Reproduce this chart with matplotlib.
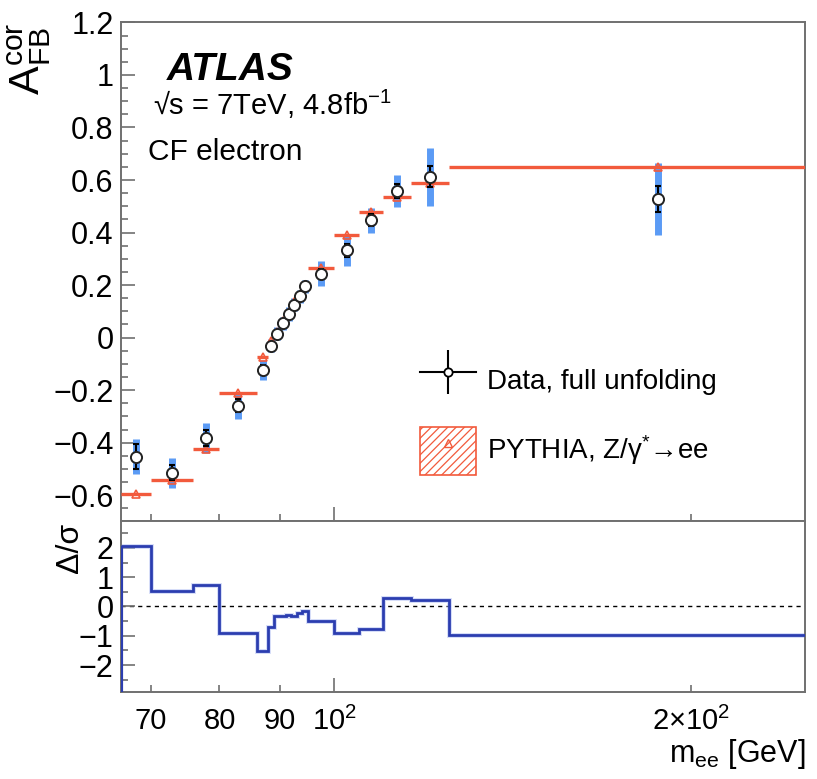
import numpy as np
import matplotlib
matplotlib.use("Agg")
from matplotlib import pyplot as plt
from matplotlib.ticker import FixedLocator, FixedFormatter, FuncFormatter, MultipleLocator
from matplotlib.lines import Line2D
from matplotlib.patches import Patch
from matplotlib.legend_handler import HandlerTuple

plt.rcParams["font.family"] = ["Liberation Sans", "DejaVu Sans"]
plt.rcParams["mathtext.fontset"] = "custom"
plt.rcParams["mathtext.rm"] = "Liberation Sans"
plt.rcParams["mathtext.it"] = "Liberation Sans:italic"
plt.rcParams["mathtext.bf"] = "Liberation Sans:bold"
plt.rcParams["hatch.linewidth"] = 0.9

# mass bins [GeV]
edges = [66, 70, 76, 80, 86, 88, 89, 90, 91, 92, 93, 94, 95, 100, 105, 110, 116, 125, 250]

# unfolded data
afb_data = [-0.453, -0.514, -0.381, -0.260, -0.123, -0.031, 0.014, 0.055, 0.090,
            0.126, 0.158, 0.195, 0.243, 0.332, 0.447, 0.558, 0.612, 0.527]
err_stat = [0.048, 0.030, 0.030, 0.025, 0.018, 0.010, 0.010, 0.010, 0.010,
            0.010, 0.010, 0.010, 0.020, 0.025, 0.022, 0.028, 0.040, 0.050]
err_tot = [0.068, 0.057, 0.057, 0.049, 0.038, 0.025, 0.025, 0.025, 0.025,
           0.025, 0.025, 0.025, 0.048, 0.058, 0.048, 0.060, 0.110, 0.137]

# PYTHIA prediction
afb_pythia = [-0.594, -0.543, -0.423, -0.211, -0.075, -0.013, 0.022, 0.063, 0.097,
              0.134, 0.164, 0.199, 0.265, 0.389, 0.478, 0.535, 0.587, 0.650]

# (data - MC) / sigma
pull = [2.05, 0.52, 0.72, -0.92, -1.51, -0.70, -0.31, -0.31, -0.28,
        -0.33, -0.23, -0.17, -0.51, -0.92, -0.76, 0.30, 0.21, -0.96]

red = "#f25a3c"
light_blue = "#5b9bf5"
dark_blue = "#2b3db0"
frame = "#707070"

edges = np.array(edges, dtype=float)
centers = 0.5 * (edges[:-1] + edges[1:])

fig = plt.figure(figsize=(8.17, 7.79), dpi=100)
ax = fig.add_axes([0.1475, 0.3306, 0.8384, 0.6406])
ax2 = fig.add_axes([0.1475, 0.1123, 0.8384, 0.2183], sharex=ax)

# upper panel
ax.errorbar(centers, afb_data, yerr=err_tot, fmt="none", ecolor=light_blue,
            elinewidth=5, zorder=2)
ax.hlines(afb_pythia, edges[:-1], edges[1:], color=red, lw=2.4, zorder=3)
ax.plot(centers, afb_pythia, ls="none", marker="^", mfc="none", mec=red,
        ms=6, mew=1.2, zorder=3)
ax.errorbar(centers, afb_data, yerr=err_stat, fmt="none", ecolor="k",
            elinewidth=1.5, capsize=2, capthick=1.5, zorder=4)
ax.plot(centers, afb_data, ls="none", marker="o", mfc="white", mec="#222222",
        ms=8, mew=1.4, zorder=5)

ax.set_ylim(-0.7, 1.2)
ax.yaxis.set_major_locator(MultipleLocator(0.2))
ax.yaxis.set_minor_locator(MultipleLocator(0.05))
ax.yaxis.set_major_formatter(FuncFormatter(lambda v, _: f"{round(v, 3):g}".replace("-", "\u2212")))

ax.text(0.068, 0.885, "ATLAS", transform=ax.transAxes, fontsize=28,
        fontweight="bold", fontstyle="italic")
ax.text(0.047, 0.815, "\u221as = 7TeV, 4.8fb$^{-1}$", transform=ax.transAxes, fontsize=21)
ax.text(0.040, 0.724, "CF electron", transform=ax.transAxes, fontsize=21.5)

h_data = (Line2D([], [], color="k", lw=1.5),
          Line2D([], [], color="k", marker="|", ms=31, mew=1.5, ls="none"),
          Line2D([], [], marker="o", mfc="white", mec="k", ms=6, mew=1.3, ls="none"))
h_mc = (Patch(facecolor="none", edgecolor=red, hatch="////", lw=1.2),
        Line2D([], [], marker="^", mfc="none", mec=red, ms=6, ls="none"))
ax.legend([h_data, h_mc],
          ["Data, full unfolding", "PYTHIA, Z/\u03b3$^{*}$\u2192ee"],
          handler_map={tuple: HandlerTuple(ndivide=1, pad=0)},
          loc="upper left", bbox_to_anchor=(420 / 817, 1 - 356 / 779),
          bbox_transform=fig.transFigure, frameon=False, fontsize=20,
          borderpad=0, borderaxespad=0, handlelength=2.0, handleheight=2.3,
          labelspacing=0.8, handletextpad=0.42)

ax.set_ylabel(r"$\mathregular{A^{cor}_{FB}}$", fontsize=31, loc="top")
ax.yaxis.set_label_coords(-0.098, 1.0)

# lower panel
ax2.stairs(pull, edges, baseline=None, color="#a9b8f0", lw=3.5, alpha=0.5, zorder=2)
ax2.stairs(pull, edges, baseline=None, color=dark_blue, lw=2, zorder=3)
ax2.vlines(edges[0], -2.9, pull[0], color=dark_blue, lw=3, zorder=3)
ax2.axhline(0, color="k", ls=(0, (3, 3)), lw=1, zorder=1)
ax2.set_ylim(-2.9, 2.9)
ax2.yaxis.set_major_locator(MultipleLocator(1))
ax2.yaxis.set_minor_locator(MultipleLocator(0.5))
ax2.yaxis.set_major_formatter(FuncFormatter(lambda v, _: f"{round(v, 3):g}".replace("-", "\u2212")))
ax2.set_ylabel("\u0394/\u03c3", fontsize=23, loc="top")
ax2.yaxis.set_label_coords(-0.052, 0.99)

ax2.set_xscale("log")
ax2.set_xlim(66, 250)
ax2.xaxis.set_major_locator(FixedLocator([100]))
ax2.xaxis.set_major_formatter(FixedFormatter([r"$\mathregular{10^{2}}$"]))
ax2.xaxis.set_minor_locator(FixedLocator([70, 80, 90, 200]))
ax2.xaxis.set_minor_formatter(FixedFormatter(["70", "80", "90", r"$\mathregular{2{\times}10^{2}}$"]))
ax2.set_xlabel(r"m$_{\mathregular{ee}}$ [GeV]", fontsize=22, loc="right", labelpad=1)

for a in (ax, ax2):
    for s in a.spines.values():
        s.set_color(frame)
        s.set_linewidth(1.4)
    a.tick_params(which="both", direction="in", colors=frame, labelcolor="k",
                  top=False, right=False)
    a.tick_params(which="major", length=10, width=1.2)
    a.tick_params(which="minor", length=5, width=1.2)
    a.tick_params(axis="y", which="both", pad=5, labelsize=22)
    a.tick_params(axis="x", which="both", pad=11, labelsize=21)

ax.tick_params(axis="x", which="both", labelbottom=False)

fig.savefig("out.png", dpi=100)
